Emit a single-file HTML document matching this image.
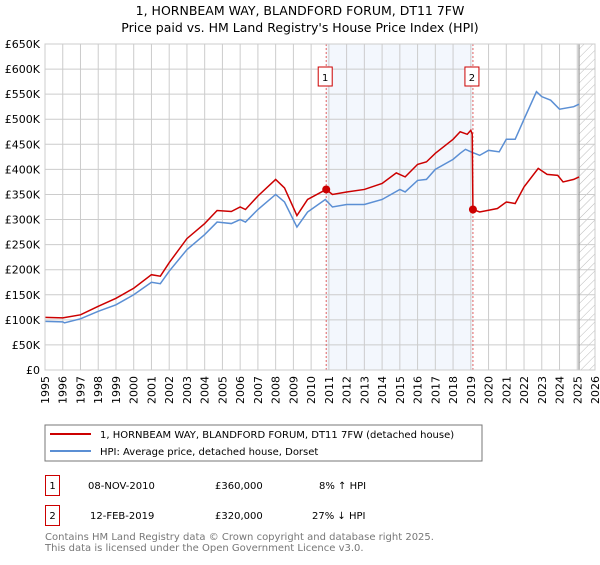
<!DOCTYPE html>
<html><head><meta charset="utf-8"><style>
body{margin:0;background:#fff;}
svg text{font-family:"DejaVu Sans","Liberation Sans",sans-serif;}
</style></head><body>
<svg id="c" width="600" height="560" viewBox="0 0 600 560" xmlns="http://www.w3.org/2000/svg">
<text x="300" y="15" text-anchor="middle" font-size="12.5" fill="#000">1, HORNBEAM WAY, BLANDFORD FORUM, DT11 7FW</text>
<text x="300" y="32" text-anchor="middle" font-size="12.5" fill="#000">Price paid vs. HM Land Registry's House Price Index (HPI)</text>
<defs><pattern id="hatch" width="6" height="6" patternUnits="userSpaceOnUse" patternTransform="rotate(45)"><line x1="0" y1="0" x2="0" y2="6" stroke="#bbb" stroke-width="1"/></pattern></defs>
<g id="plot"></g>
<rect x="45" y="425" width="437" height="36" fill="#fff" stroke="#777"/>
<line x1="50" y1="434" x2="91" y2="434" stroke="#cc0000" stroke-width="2"/>
<text x="100" y="438" font-size="10">1, HORNBEAM WAY, BLANDFORD FORUM, DT11 7FW (detached house)</text>
<line x1="50" y1="451" x2="91" y2="451" stroke="#5b8fd4" stroke-width="2"/>
<text x="100" y="455" font-size="10">HPI: Average price, detached house, Dorset</text>
<rect x="45.5" y="475.5" width="14" height="20" fill="#fff" stroke="#cc0000"/>
<text x="52.5" y="489" font-size="10" text-anchor="middle">1</text>
<text x="88" y="489" font-size="10">08-NOV-2010</text>
<text x="215" y="489" font-size="10">£360,000</text>
<text x="319" y="489" font-size="10">8% ↑ HPI</text>
<rect x="45.5" y="505.5" width="14" height="20" fill="#fff" stroke="#cc0000"/>
<text x="52.5" y="519" font-size="10" text-anchor="middle">2</text>
<text x="90" y="519" font-size="10">12-FEB-2019</text>
<text x="215" y="519" font-size="10">£320,000</text>
<text x="312" y="519" font-size="10">27% ↓ HPI</text>
<text x="45" y="540" font-size="10" fill="#777">Contains HM Land Registry data © Crown copyright and database right 2025.</text>
<text x="45" y="551" font-size="10" fill="#777">This data is licensed under the Open Government Licence v3.0.</text>
</svg>
<script>
const yTicks=[0,50,100,150,200,250,300,350,400,450,500,550,600,650];
const yTickLabels=["£0","£50K","£100K","£150K","£200K","£250K","£300K","£350K","£400K","£450K","£500K","£550K","£600K","£650K"];
const xYears=[1995,1996,1997,1998,1999,2000,2001,2002,2003,2004,2005,2006,2007,2008,2009,2010,2011,2012,2013,2014,2015,2016,2017,2018,2019,2020,2021,2022,2023,2024,2025,2026];
const hpiYears=[1995,1996,1996.1,1997,1998,1999,2000,2001,2001.5,2002,2003,2004,2004.7,2005.5,2006,2006.3,2007,2008,2008.5,2009.2,2009.8,2010.8,2011.2,2012,2013,2014,2015,2015.3,2016,2016.5,2017,2018,2018.4,2018.7,2019,2019.5,2020,2020.6,2021,2021.5,2022,2022.7,2023,2023.5,2024,2024.8,2025.1];
const hpiValues=[97,96,94,102,117,130,150,175,172,197,240,270,295,292,300,295,320,350,335,285,315,340,325,330,330,340,360,355,378,380,400,420,432,440,435,428,438,435,460,460,500,555,545,538,520,525,530];
const propYears=[1995,1996,1997,1998,1999,2000,2001,2001.5,2002,2003,2004,2004.7,2005.5,2006,2006.3,2007,2008,2008.5,2009.2,2009.8,2010.85,2011.2,2012,2013,2014,2014.8,2015.3,2016,2016.5,2017,2018,2018.4,2018.8,2019.0,2019.08,2019.12,2019.5,2020.5,2021,2021.5,2022,2022.8,2023.3,2023.9,2024.2,2024.8,2025.1];
const propValues=[105,104,110,127,143,163,190,187,214,262,292,318,316,325,320,347,380,363,308,340,360,350,355,360,372,393,385,410,415,432,460,475,470,478,470,320,315,322,335,332,365,402,390,388,375,380,385];
const saleYears=[2010.85,2019.12];
const saleValues=[360,320];
const saleLabels=["1","2"];
const X0=45,X1=595,Y0=370,Y1=44;
const xs=y=>X0+(y-1995)/(2026-1995)*(X1-X0);
const ys=v=>Y0-v/650*(Y0-Y1);
const NS="http://www.w3.org/2000/svg";
const g=document.getElementById('plot');
function mk(t,a){const e=document.createElementNS(NS,t);for(const k in a)e.setAttribute(k,a[k]);g.appendChild(e);return e;}
let e;
e=mk('rect',{x:xs(saleYears[0]),y:Y1,width:xs(saleYears[1])-xs(saleYears[0]),height:Y0-Y1,fill:'#eef3fc',opacity:0.7});


e=mk('rect',{x:xs(2025.1),y:Y1,width:X1-xs(2025.1),height:Y0-Y1,fill:'url(#hatch)'});


yTicks.forEach((v,i)=>{
 e=mk('line',{x1:X0,x2:X1,y1:ys(v),y2:ys(v),stroke:'#cccccc','stroke-width':1});
 
 
 e=mk('text',{x:X0-5,y:ys(v)+4,'text-anchor':'end','font-size':11});
 e.textContent=yTickLabels[i];
 
 
});
xYears.forEach(yr=>{
 e=mk('line',{x1:xs(yr),x2:xs(yr),y1:Y1,y2:Y0,stroke:'#cccccc','stroke-width':1});
 
 
 e=mk('text',{x:0,y:0,'text-anchor':'end','font-size':11,transform:`translate(${xs(yr)+4},${Y0+6}) rotate(-90)`});
 e.textContent=yr;
 
 
});
e=mk('line',{x1:xs(2025.1),x2:xs(2025.1),y1:Y1,y2:Y0,stroke:'#999','stroke-width':1.2});


saleYears.forEach((yr,i)=>{
 e=mk('line',{x1:xs(yr),x2:xs(yr),y1:Y1,y2:Y0,stroke:'#e06060','stroke-width':1,'stroke-dasharray':'2,2'});
 
 
 e=mk('rect',{x:xs(yr)-8,y:67,width:14,height:19,fill:'#fff',stroke:'#cc0000'});
 
 
 e=mk('text',{x:xs(yr)-1,y:81,'text-anchor':'middle','font-size':10});
 e.textContent=saleLabels[i];
 
 
});
e=mk('polyline',{points:hpiYears.map((y,i)=>xs(y)+','+ys(hpiValues[i])).join(' '),fill:'none',stroke:'#5b8fd4','stroke-width':1.5});


e=mk('polyline',{points:propYears.map((y,i)=>xs(y)+','+ys(propValues[i])).join(' '),fill:'none',stroke:'#cc0000','stroke-width':1.5});


saleYears.forEach((yr,i)=>{
 e=mk('circle',{cx:xs(yr),cy:ys(saleValues[i]),r:4,fill:'#cc0000'});
 
 
});
e=mk('rect',{x:X0,y:Y1,width:X1-X0,height:Y0-Y1,fill:'none',stroke:'#cccccc'});


</script>
</body></html>
